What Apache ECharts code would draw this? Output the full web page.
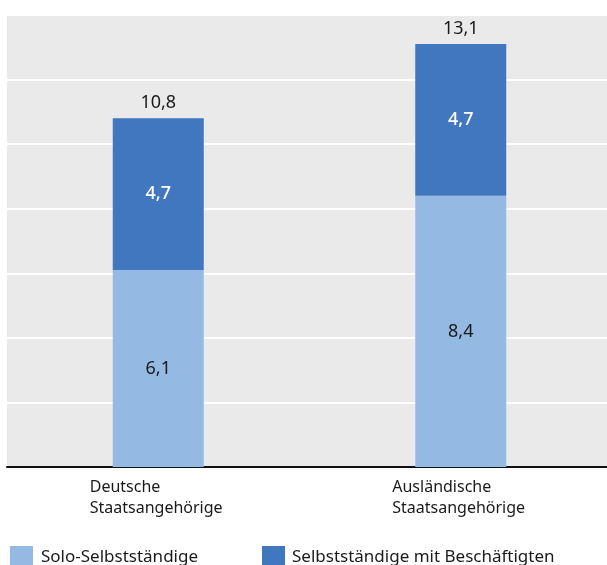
<!DOCTYPE html>
<html>
<head>
<meta charset="utf-8">
<script src="https://cdn.jsdelivr.net/npm/echarts@6/dist/echarts.min.js"></script>
<style>
  html, body { margin: 0; padding: 0; background: #ffffff; }
  #chart { width: 607px; height: 565px; }
</style>
</head>
<body>
<div id="chart"></div>
<script>
// Selbstständige nach Staatsangehörigkeit (in %)
const categories = ['Deutsche\nStaatsangehörige', 'Ausländische\nStaatsangehörige'];
const seriesNames = ['Solo-Selbstständige', 'Selbstständige mit Beschäftigten'];
const soloValues = [6.1, 8.4];
const mitBeschValues = [4.7, 4.7];
const totals = [10.8, 13.1];

const FONT = 'Noto Sans';
const fmt = v => String(v).replace('.', ',');

const chart = echarts.init(document.getElementById('chart'));

chart.setOption({
  animation: false,
  textStyle: { fontFamily: FONT },
  grid: {
    left: 7, top: 15, width: 605, height: 452,
    outerBoundsMode: 'none',
    show: true, backgroundColor: '#eaeaea', borderWidth: 0,
    containLabel: false
  },
  legend: [
    {
      data: [seriesNames[0]], left: 10, top: 546, padding: 0,
      itemWidth: 23, itemHeight: 23, icon: 'rect',
      textStyle: { fontFamily: FONT, fontSize: 17, color: '#1a1a1a', padding: [0, 0, 0, 3] }
    },
    {
      data: [seriesNames[1]], left: 262, top: 546, padding: 0,
      itemWidth: 23, itemHeight: 23, icon: 'rect',
      textStyle: { fontFamily: FONT, fontSize: 17, color: '#1a1a1a', padding: [0, 0, 0, 2] }
    }
  ],
  xAxis: {
    type: 'category',
    data: categories,
    axisTick: { show: false },
    axisLine: { show: true, lineStyle: { color: '#111', width: 2 } },
    axisLabel: {
      margin: 10,
      formatter: v => v.split('\n').map(s => '{a|' + s + '}').join('\n'),
      rich: {
        a: { width: 137, align: 'left', fontFamily: FONT, fontSize: 16, lineHeight: 21, color: '#1a1a1a' }
      }
    }
  },
  yAxis: {
    type: 'value',
    min: 0, max: 14, interval: 2,
    axisLine: { show: false },
    axisTick: { show: false },
    axisLabel: { show: false },
    splitLine: { show: true, lineStyle: { color: '#ffffff', width: 2 } }
  },
  series: [
    {
      name: seriesNames[0],
      type: 'bar', stack: 'total', barWidth: 91,
      data: soloValues,
      itemStyle: { color: '#94bae3' },
      label: {
        show: true, position: 'inside', formatter: p => fmt(p.value),
        fontFamily: FONT, fontSize: 18, color: '#1a1a1a'
      }
    },
    {
      name: seriesNames[1],
      type: 'bar', stack: 'total', barWidth: 91,
      data: mitBeschValues,
      itemStyle: { color: '#4177be' },
      label: {
        show: true, position: 'inside', formatter: p => fmt(p.value),
        fontFamily: FONT, fontSize: 18, fontWeight: 500, color: '#ffffff'
      }
    },
    {
      name: 'Summe',
      type: 'bar', stack: 'total', barWidth: 91,
      data: totals.map(() => 0),
      itemStyle: { color: 'transparent' },
      label: {
        show: true, position: 'top', distance: 6,
        formatter: p => fmt(totals[p.dataIndex]),
        fontFamily: FONT, fontSize: 18, color: '#1a1a1a'
      }
    }
  ]
});
</script>
</body>
</html>
